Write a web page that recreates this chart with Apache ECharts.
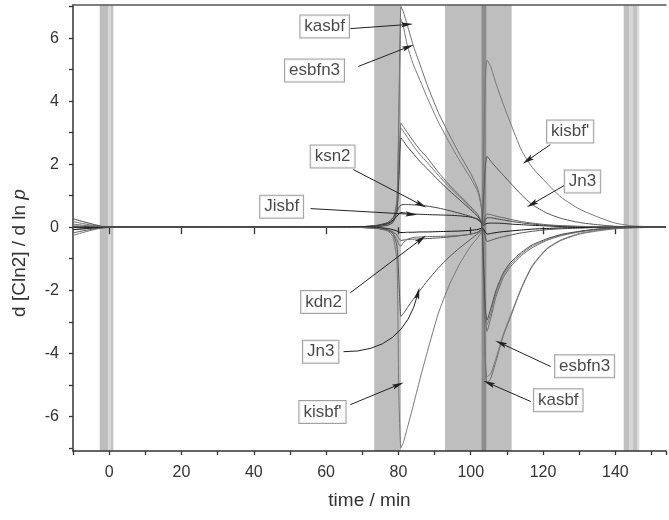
<!DOCTYPE html>
<html><head><meta charset="utf-8">
<script src="https://cdn.jsdelivr.net/npm/echarts@6/dist/echarts.min.js"></script>
<style>html,body{margin:0;padding:0;background:#fff}#c{width:669px;height:520px}</style>
</head><body><div id="c"></div>
<script>
// ---- data ----
const time = [-10,-7,-4,-2,0,2,5,20,40,60,70,74,77,78.5,79.6,80.1,80.7,81.3,82.5,84,86,88,91,94,97,100,102,103,103.5,104,104.5,105.5,107,109,111,114,117,121,125,130,135,140,145,154];
const kasbf  = [0.18,0.11,0.05,0.02,0,0,0,0,0,0,0.01,0.03,0.1,0.25,0.9,3.5,7.0,6.85,6.4,5.8,5.15,4.5,3.65,2.95,2.3,1.7,1.2,0.6,-1.5,-4.2,-4.95,-4.8,-4.25,-3.45,-2.85,-1.95,-1.25,-0.7,-0.42,-0.22,-0.12,-0.05,-0.02,0];
const esbfn3 = [0.05,0.03,0.01,0,0,0,0,0,0,0,0.01,0.03,0.09,0.22,0.8,3.2,6.6,6.4,5.75,5.2,4.65,4.1,3.35,2.7,2.1,1.55,1.1,0.55,-1.3,-4.0,-4.75,-4.65,-4.15,-3.4,-2.8,-1.92,-1.22,-0.68,-0.4,-0.2,-0.1,-0.04,-0.01,0];
const g3a    = [0.02,0.01,0,0,0,0,0,0,0,0,0.01,0.03,0.08,0.2,0.6,1.8,3.3,3.2,3.0,2.75,2.45,2.2,1.75,1.35,1.0,0.65,0.4,0.15,-1.2,-2.8,-3.3,-2.9,-2.2,-1.6,-1.25,-0.9,-0.65,-0.42,-0.27,-0.15,-0.07,-0.03,-0.01,0];
const g3b    = [-0.02,-0.01,0,0,0,0,0,0,0,0,0.01,0.03,0.07,0.18,0.55,1.7,3.15,3.05,2.85,2.6,2.3,2.05,1.65,1.28,0.95,0.6,0.37,0.14,-1.1,-2.65,-3.1,-2.75,-2.1,-1.52,-1.18,-0.85,-0.6,-0.4,-0.25,-0.14,-0.06,-0.02,-0.01,0];
const g3c    = [-0.08,-0.05,-0.02,-0.01,0,0,0,0,0,0,0.01,0.02,0.06,0.15,0.48,1.5,2.83,2.75,2.55,2.35,2.08,1.85,1.5,1.17,0.86,0.55,0.33,0.12,-1.0,-2.5,-2.95,-2.6,-2.0,-1.45,-1.12,-0.8,-0.56,-0.37,-0.23,-0.13,-0.06,-0.02,-0.01,0];
const kisbfP = [-0.26,-0.16,-0.07,-0.03,-0.01,0,0,0,0,0,-0.01,-0.04,-0.12,-0.3,-1.1,-5.2,-7.0,-6.85,-6.35,-5.7,-4.8,-3.95,-2.75,-1.85,-1.15,-0.6,-0.32,-0.12,2.0,4.6,5.3,5.1,4.55,3.9,3.3,2.45,1.9,1.4,0.95,0.58,0.33,0.13,0.04,0];
const jn3    = [-0.18,-0.11,-0.05,-0.02,0,0,0,0,0,0,-0.01,-0.03,-0.08,-0.2,-0.6,-1.6,-2.83,-2.75,-2.55,-2.3,-2.0,-1.7,-1.3,-0.95,-0.65,-0.38,-0.2,-0.08,0.8,1.9,2.25,2.1,1.9,1.65,1.4,1.03,0.72,0.45,0.28,0.15,0.08,0.03,0.01,0];
const jisbf  = [-0.08,-0.05,-0.02,-0.01,0,0,0,0,0,0.01,0.02,0.05,0.12,0.22,0.35,0.42,0.47,0.46,0.44,0.42,0.41,0.4,0.39,0.38,0.36,0.32,0.25,0.12,0.05,0.1,0.12,0.13,0.13,0.12,0.1,0.08,0.06,0.04,0.02,0.01,0,0,0,0];
const ksn2   = [0.27,0.17,0.08,0.03,0.01,0,0,0,0,0.01,0.02,0.06,0.15,0.3,0.5,0.62,0.7,0.72,0.72,0.71,0.7,0.67,0.61,0.53,0.44,0.34,0.24,0.12,0.1,0.22,0.3,0.3,0.27,0.23,0.19,0.14,0.1,0.06,0.04,0.02,0.01,0,0,0];
const kdn2   = [0,0,0,0,0,0,0,0,0,0,-0.01,-0.03,-0.08,-0.15,-0.25,-0.35,-0.42,-0.41,-0.39,-0.38,-0.37,-0.36,-0.34,-0.31,-0.27,-0.22,-0.15,-0.06,-0.1,-0.3,-0.45,-0.42,-0.36,-0.3,-0.25,-0.18,-0.13,-0.08,-0.05,-0.03,-0.01,0,0,0];
const s1     = [0,0,0,0,0,0,0,0,0,0,0,-0.01,-0.04,-0.08,-0.12,-0.15,-0.17,-0.17,-0.16,-0.16,-0.15,-0.15,-0.14,-0.13,-0.12,-0.1,-0.07,-0.03,-0.05,-0.15,-0.22,-0.2,-0.17,-0.14,-0.12,-0.09,-0.06,-0.04,-0.02,-0.01,0,0,0,0];
const s2     = [0.1,0.06,0.03,0.01,0,0,0,0,0,0,-0.01,-0.03,-0.1,-0.2,-0.4,-0.55,-0.6,-0.5,-0.38,-0.33,-0.31,-0.3,-0.29,-0.28,-0.26,-0.22,-0.16,-0.06,0.15,0.35,0.42,0.4,0.35,0.3,0.25,0.18,0.13,0.08,0.05,0.03,0.01,0,0,0];

const seriesNames = ['kasbf','esbfn3','g3a','g3b','g3c',"kisbf'",'Jn3','Jisbf','ksn2','kdn2','s1','s2'];
const seriesValues = [kasbf,esbfn3,g3a,g3b,g3c,kisbfP,jn3,jisbf,ksn2,kdn2,s1,s2];

// shaded time windows (min)
const bandStart = [-2.6,-0.33,0.41,1.05,73.3,92.9,103.0,142.3,143.8,144.9,146.0];
const bandEnd   = [-0.33,0.41,1.05,1.24,80.7,111.3,104.3,143.8,144.9,146.0,146.6];

// annotations: text, box centre, arrow start, arrow tip (data units)
const noteText  = ['kasbf','esbfn3',"kisbf'",'Jn3','ksn2','Jisbf','kdn2','Jn3',"kisbf'",'esbfn3','kasbf'];
const noteBox   = [[59.6,6.37],[56.8,4.97],[127.5,3.04],[130.9,1.45],[61.8,2.24],[47.7,0.65],[59.3,-2.37],[58.5,-3.95],[59.0,-5.86],[131.5,-4.41],[124.2,-5.49]];
const noteFrom  = [[66.7,6.30],[68.9,5.1],[122.0,2.62],[125.8,1.32],[67.5,1.83],[55.7,0.59],[66.7,-2.08],[64.8,-3.95],[66.7,-5.63],[122.1,-4.42],[116.6,-5.53]];
const noteTip   = [[82.4,6.43],[82.7,5.72],[115.7,2.12],[116.9,0.73],[86.3,0.71],[83.6,0.41],[86.3,-0.38],[85.4,-2.1],[79.95,-5.0],[108.3,-3.68],[105.0,-4.95]];
const curvedNote = 7;

const xTicksMajor = [0,20,40,60,80,100,120,140];
const yTicks = [-7,-6,-5,-4,-3,-2,-1,0,1,2,3,4,5,6,7];
const yLabels = [-6,-4,-2,0,2,4,6];

// ---- styles ----
const X_MIN=-10, X_MAX=154, Y_MIN=-7.1, Y_MAX=7.05;
const lineColors = ['#6e6e6e','#7a7a7a','#6a6a6a','#7c7c7c','#4a4a4a','#777777','#555555','#222222','#444444','#555555','#111111','#666666'];
const bandShade = ['#bdbdbd','#d6d6d6','#c2c2c2','#dadada','#bebebe','#bebebe','#8c8c8c','#c0c0c0','#d6d6d6','#c2c2c2','#dadada'];
const FONT = "'Liberation Sans', Arial, sans-serif";
const ARROW = 'path://M0,0 L0,0.01 M16,16 L16,16.01 M8,0 L11.5,16 L8,13 L4.5,16 Z';

const chart = echarts.init(document.getElementById('c'), null, {renderer:'canvas'});

const series = [];
series.push({
  type:'custom', name:'bands', silent:true, z:0,
  data: bandStart.map((s,i)=>[s, bandEnd[i], 0]),
  encode:{x:[0,1], y:2},
  renderItem:(params, api)=>{
    const p0 = api.coord([api.value(0), Y_MAX]);
    const p1 = api.coord([api.value(1), Y_MIN]);
    return {type:'rect', shape:{x:p0[0], y:p0[1], width:p1[0]-p0[0], height:p1[1]-p0[1]},
            style:{fill: bandShade[params.dataIndex]}};
  }
});
seriesValues.forEach((vals, k)=>{
  series.push({
    type:'line', name:seriesNames[k], silent:true, z:2,
    data: time.map((t,i)=>[t, vals[i]]),
    showSymbol:false, symbol:'none', smooth:0.2,
    lineStyle:{width:1, color:lineColors[k]}
  });
});
function arrowSeries(idx, curveness){
  return {
    type:'lines', coordinateSystem:'cartesian2d', silent:true, z:9,
    symbol:['none', ARROW], symbolSize:12,
    lineStyle:{color:'#222', width:1, opacity:1, curveness:curveness},
    itemStyle:{color:'#222'},
    data: idx.map(i=>({coords:[noteFrom[i], noteTip[i]]}))
  };
}
const straight = noteText.map((_,i)=>i).filter(i=>i!==curvedNote);
series.push(arrowSeries(straight, 0));
series.push(arrowSeries([curvedNote], -0.4));
series.push({
  type:'scatter', name:'notes', silent:true, z:10,
  data: noteBox.map((b,i)=>[b[0], b[1], noteText[i]]),
  symbol:'rect', symbolSize:1, itemStyle:{color:'rgba(0,0,0,0)'},
  label:{show:true, position:'inside', formatter:p=>p.data[2],
    backgroundColor:'#fff', borderColor:'#8a8a8a', borderWidth:1, padding:[3,4,2,4],
    color:'#1a1a1a', fontSize:17, fontFamily:FONT}
});

chart.setOption({
  animation:false,
  backgroundColor:'#fff',
  grid:{left:73, right:0, top:5, bottom:69, containLabel:false},
  xAxis:[
    {type:'value', min:X_MIN, max:X_MAX, interval:10, position:'bottom',
     axisLine:{show:true, onZero:false, lineStyle:{color:'#333', width:1.5}},
     axisTick:{show:true, length:4, lineStyle:{color:'#333', width:1.3}},
     axisLabel:{formatter:v=> (v%20===0 ? String(v) : ''), fontSize:16, margin:14, color:'#333', fontFamily:FONT},
     splitLine:{show:false},
     name:'time / min', nameLocation:'middle', nameGap:40,
     nameTextStyle:{fontSize:19, color:'#333', fontFamily:FONT}},
    {type:'value', min:X_MIN, max:X_MAX, position:'bottom', gridIndex:0,
     axisLine:{show:false}, axisLabel:{show:false}, splitLine:{show:false},
     axisTick:{show:true, length:7, customValues:xTicksMajor, lineStyle:{color:'#333', width:1.3}}},
    {type:'value', min:X_MIN, max:X_MAX, position:'top', gridIndex:0,
     axisLine:{show:true, onZero:false, lineStyle:{color:'#555', width:1.5}},
     axisTick:{show:false}, axisLabel:{show:false}, splitLine:{show:false}}
  ],
  yAxis:[
    {type:'value', min:Y_MIN, max:Y_MAX, position:'left',
     axisLine:{show:true, onZero:false, lineStyle:{color:'#333', width:1.5}},
     axisTick:{show:true, length:4, customValues:yTicks, lineStyle:{color:'#333', width:1.3}},
     axisLabel:{customValues:yLabels, fontSize:16, margin:14, color:'#333', fontFamily:FONT},
     splitLine:{show:false},
     name:'{n|d [Cln2] / d ln }{i|p}', nameLocation:'middle', nameGap:44, nameRotate:90,
     nameTextStyle:{padding:[0,50,0,0], rich:{
       n:{fontSize:19, color:'#333', fontFamily:FONT},
       i:{fontSize:19, color:'#333', fontFamily:FONT, fontStyle:'italic'}}}}
  ],
  series: series
});
</script>
</body></html>
